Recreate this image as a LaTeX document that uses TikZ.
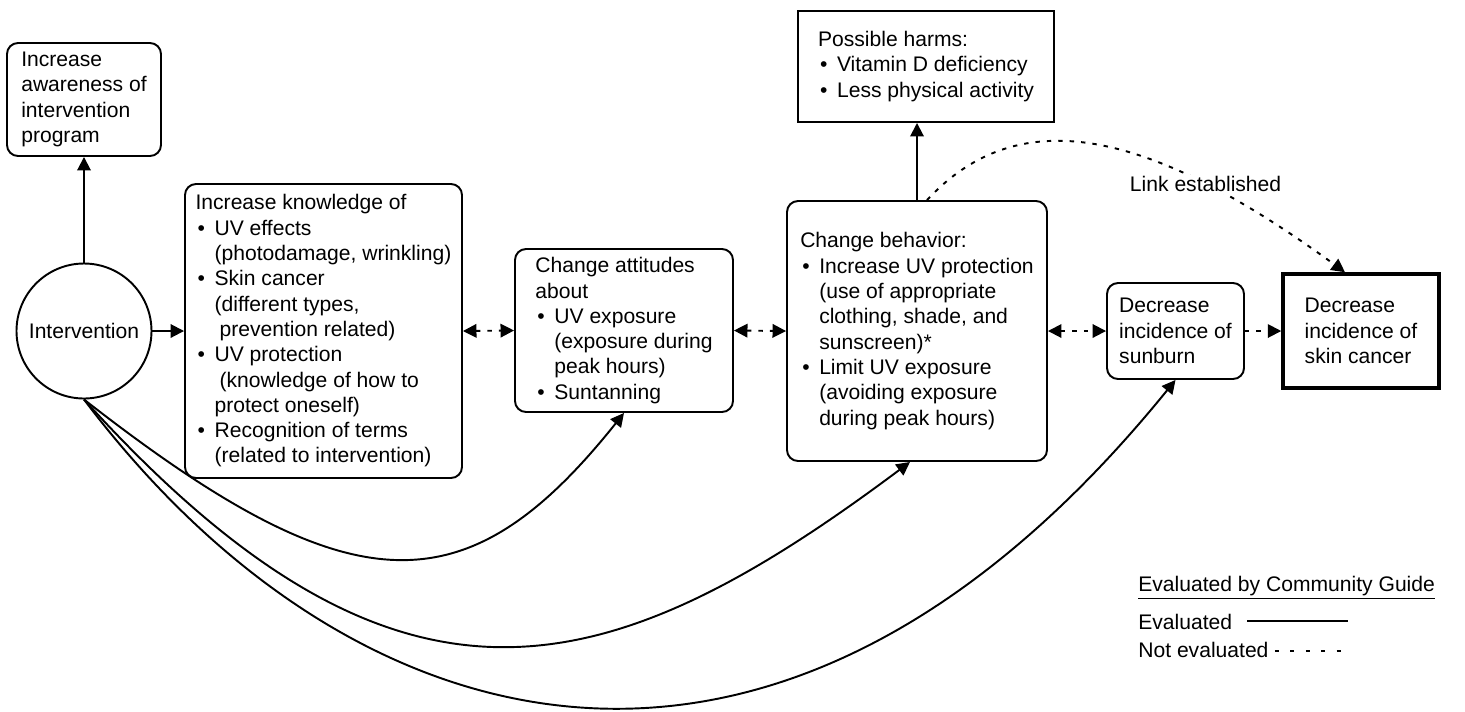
\documentclass[tikz,border=0pt]{standalone}
\usepackage{fontspec}
\setmainfont{Liberation Sans}
\usepackage{tikz}
\usetikzlibrary{arrows.meta}
\tikzset{
    % box styles
    stagebox/.style={draw, rounded corners=0.22cm, line width=1.1pt, align=left, inner sep=0pt},
    plainbox/.style={draw, line width=1.1pt, align=left, inner sep=0pt},
    outcome/.style={draw, line width=2pt, align=left, inner sep=0pt},
    startnode/.style={circle, draw, line width=1.1pt, minimum size=2.7cm, inner sep=0pt},
    % link styles
    evald/.style={->, line width=1.1pt},
    notevald/.style={line width=1.1pt, dash pattern=on 2.5pt off 4pt}
}
\newcommand{\bitem}{\makebox[0.38cm][l]{\hspace{0.04cm}\textbullet}}
\newcommand{\bcont}[1][0.38cm]{\hspace*{#1}}

\begin{document}
\begin{tikzpicture}[font=\fontsize{12}{14.4}\selectfont, >={Triangle[length=0.27cm,width=0.27cm]}]
    \useasboundingbox (0,0) rectangle (29.3,-14.22);

    % Intervention and the stages it leads to
    \node[startnode] (inter) at (1.68,-6.62) {Intervention};
    \node[stagebox, minimum width=3.08cm, minimum height=2.26cm] (aware) at (1.68,-1.99)
        {Increase\\awareness of\\intervention\\program};
    \node[stagebox, minimum width=5.54cm, minimum height=5.88cm] (know) at (6.47,-6.62)
        {Increase knowledge of\\
         \bitem UV effects\\
         \bcont(photodamage, wrinkling)\\
         \bitem Skin cancer\\
         \bcont(different types,\\
         \bcont[0.48cm]prevention related)\\
         \bitem UV protection\\
         \bcont[0.48cm](knowledge of how to\\
         \bcont protect oneself)\\
         \bitem Recognition of terms\\
         \bcont(related to intervention)};
    \node[stagebox, minimum width=4.36cm, minimum height=3.26cm] (att) at (12.48,-6.61)
        {Change attitudes\\
         about\\
         \bitem UV exposure\\
         \bcont(exposure during\\
         \bcont peak hours)\\
         \bitem Suntanning};
    \node[stagebox, minimum width=5.2cm, minimum height=5.2cm] (beh) at (18.34,-6.62)
        {Change behavior:\\
         \bitem Increase UV protection\\
         \bcont(use of appropriate\\
         \bcont clothing, shade, and\\
         \bcont sunscreen)*\\
         \bitem Limit UV exposure\\
         \bcont(avoiding exposure\\
         \bcont during peak hours)};
    \node[plainbox, minimum width=5.12cm, minimum height=2.22cm] (harm) at (18.52,-1.33)
        {Possible harms:\\
         \bitem Vitamin D deficiency\\
         \bitem Less physical activity};
    \node[stagebox, minimum width=2.74cm, minimum height=1.92cm] (sun) at (23.51,-6.62)
        {Decrease\\incidence of\\sunburn};
    \node[outcome, minimum width=3.12cm, minimum height=2.28cm] (canc) at (27.22,-6.62)
        {Decrease\\incidence of\\skin cancer};

    % Straight links
    \draw[evald] (inter.north) -- (aware.south);
    \draw[evald] (inter.east) -- (know.west);
    \draw[evald] (beh.north) -- (beh.north |- harm.south);
    \draw[notevald, <->] (know.east) -- (att.west);
    \draw[notevald, <->] (att.east) -- (beh.west);
    \draw[notevald, <->] (beh.east) -- (sun.west);
    \draw[notevald, ->] (sun.east) -- (canc.west);

    % Curved links from the intervention
    \draw[evald] (inter.south) .. controls (7.02,-12.16) and (9.32,-12.22) .. (att.south);
    \draw[evald] (inter.south) .. controls (7.96,-14.92) and (12.1,-13.8) .. ([xshift=-0.14cm]beh.south);
    \draw[evald] (inter.south) .. controls (6.84,-14.84) and (15.4,-17.6) .. (sun.south);

    % Link from behavior to skin cancer
    \draw[notevald, ->] ([xshift=0.2cm]beh.north) .. controls (20.4,-2.0) and (23.0,-2.6) .. ([xshift=-0.32cm]canc.north)
        node[pos=0.74, fill=white, inner sep=1pt] {Link established};

    % Legend
    \node[anchor=west, inner sep=0pt] (leghead) at (22.76,-11.76) {\underline{Evaluated by Community Guide}};
    \node[anchor=west, inner sep=0pt] (legev) at (22.76,-12.44) {Evaluated};
    \node[anchor=west, inner sep=0pt] (legnot) at (22.76,-13.0) {Not evaluated};
    \coordinate (evs) at (24.94,-12.42);
    \coordinate (eve) at (26.96,-12.42);
    \coordinate (note) at (26.96,-13.02);
    \draw[line width=1.1pt] (evs) -- (eve);
    \draw[line width=1.1pt, dash pattern=on 2.3pt off 6.5pt] ([xshift=0.12cm]legnot.east |- note) -- (note);
\end{tikzpicture}
\end{document}
